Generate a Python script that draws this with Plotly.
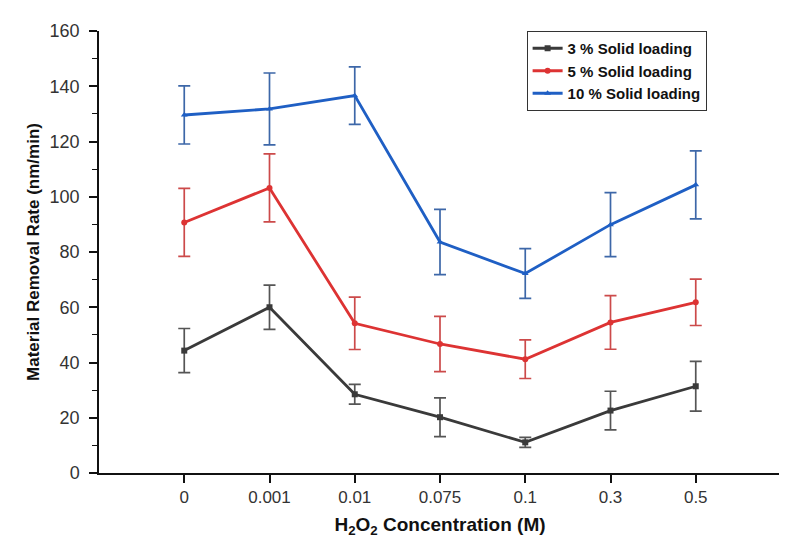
import plotly.graph_objects as go

categories = ["0", "0.001", "0.01", "0.075", "0.1", "0.3", "0.5"]
series_names = ["3 % Solid loading", "5 % Solid loading", "10 % Solid loading"]
mrr_3 = [44.3, 60.0, 28.5, 20.2, 11.1, 22.6, 31.4]
err_3 = [8.0, 8.0, 3.6, 7.0, 1.8, 7.0, 9.0]
mrr_5 = [90.7, 103.2, 54.2, 46.7, 41.2, 54.5, 61.8]
err_5 = [12.3, 12.3, 9.5, 10.0, 7.0, 9.7, 8.4]
mrr_10 = [129.6, 131.8, 136.6, 83.6, 72.2, 89.9, 104.3]
err_10 = [10.5, 13.0, 10.4, 11.8, 9.0, 11.6, 12.3]
y_ticks = [0, 20, 40, 60, 80, 100, 120, 140, 160]

x_idx = list(range(len(categories)))

styles = [
    (mrr_3, err_3, "#3a3a3a", "#555555", "square"),
    (mrr_5, err_5, "#dd3333", "#cc4a4a", "circle"),
    (mrr_10, err_10, "#1f5fc4", "#3d67a8", "triangle-up"),
]

fig = go.Figure()
for name, (vals, errs, col, ecol, sym) in zip(series_names, styles):
    fig.add_trace(go.Scatter(
        x=x_idx, y=vals, name=name, mode="lines+markers",
        line=dict(color=col, width=2.8),
        marker=dict(symbol=sym, size=6, color=col),
        error_y=dict(type="data", array=errs, visible=True, color=ecol,
                     thickness=1.7, width=6),
    ))

fig.update_layout(
    width=787, height=548,
    margin=dict(l=91, r=14, t=23, b=83),
    paper_bgcolor="white", plot_bgcolor="white",
    font=dict(family="Liberation Sans, Arial, sans-serif", color="#222222"),
    showlegend=True,
    legend=dict(
        x=0.627, y=1.0, xanchor="left", yanchor="top",
        bgcolor="white", bordercolor="#333333", borderwidth=1,
        font=dict(size=15, color="#111111", family="Liberation Sans, Arial, sans-serif", weight="bold"),
        tracegroupgap=0, itemwidth=30,
    ),
)
fig.update_xaxes(
    range=[-1, 7], tickvals=x_idx, ticktext=categories,
    showline=True, linecolor="#111111", linewidth=1.5,
    ticks="outside", ticklen=8, tickwidth=1.5, tickcolor="#111111",
    showgrid=False, zeroline=False,
    tickfont=dict(size=17, color="#333333"),
    title=dict(text="<b>H<sub>2</sub>O<sub>2</sub> Concentration (M)</b>",
               font=dict(size=19, color="#111111"), standoff=12),
)
fig.update_yaxes(
    range=[0, 160], tickvals=y_ticks,
    showline=True, linecolor="#111111", linewidth=1.5,
    ticks="outside", ticklen=8, tickwidth=1.5, tickcolor="#111111",
    minor=dict(ticks="outside", ticklen=5, tickwidth=1.2, tickcolor="#111111", dtick=10),
    showgrid=False, zeroline=False,
    ticklabelstandoff=6,
    tickfont=dict(size=18, color="#333333"),
    title=dict(text="<b>Material Removal Rate (nm/min)</b>",
               font=dict(size=17, color="#111111"), standoff=6),
)
# right-end tick of the x axis frame
fig.add_shape(type="line", xref="x domain", yref="y domain",
              x0=1, x1=1, y0=0, y1=-0.018,
              line=dict(color="#111111", width=1.5))

fig.write_html("out.html")
